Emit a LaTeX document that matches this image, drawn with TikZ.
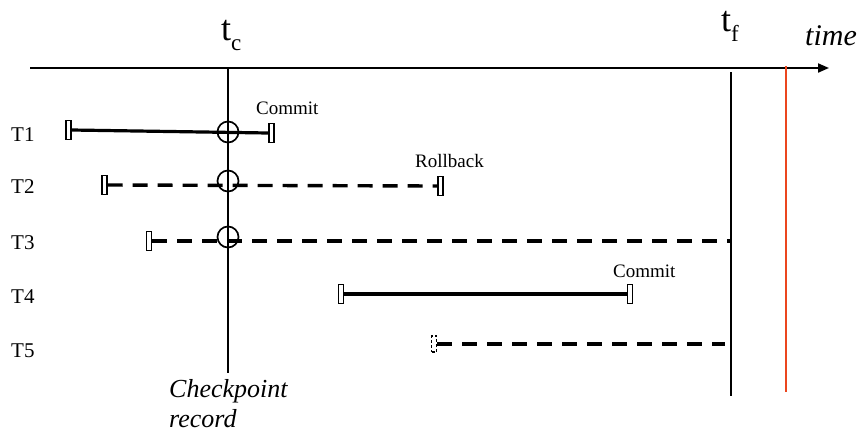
\documentclass[tikz,border=0pt]{standalone}
\usepackage{fontspec}
\setmainfont{Liberation Serif}
\usetikzlibrary{arrows.meta}
\begin{document}
\begin{tikzpicture}[x=1pt,y=-1pt,
  bar/.style={draw,fill=white,line width=1.3pt,minimum width=5pt,minimum height=19pt,inner sep=0pt},
  dbar/.style={bar,dash pattern=on 3pt off 2pt},
  solidtx/.style={line width=3.2pt},
  dashtx/.style={line width=3.4pt,dash pattern=on 15pt off 10pt},
  vline/.style={line width=2pt},
  ring/.style={draw,circle,line width=1.7pt,minimum size=21pt,inner sep=0pt},
  tlab/.style={font=\fontsize{21}{21}\selectfont,inner sep=0pt},
  evlab/.style={font=\fontsize{19}{19}\selectfont,inner sep=0pt},
  biglab/.style={font=\fontsize{26}{30}\selectfont\itshape,inner sep=0pt,align=left}]
\useasboundingbox (0,0) rectangle (862,437);
% time axis
\coordinate (ax0) at (30,68);
\coordinate (ax1) at (829,68);
\draw[line width=2pt,-{Triangle[length=11pt,width=9pt]}] (ax0) -- (ax1);
\node[inner sep=0pt,anchor=base west] (tc) at (221,40) {{\fontsize{36}{36}\selectfont t}\raisebox{-10pt}{\fontsize{23}{23}\selectfont c}};
\node[inner sep=0pt,anchor=base west] (tf) at (721,31) {{\fontsize{36}{36}\selectfont t}\raisebox{-10pt}{\fontsize{23}{23}\selectfont f}};
\node[inner sep=0pt,anchor=base west] (time) at (805,45) {\fontsize{30}{30}\selectfont\itshape time};
% vertical lines
\coordinate (c0) at (228,68);
\coordinate (c1) at (228,373);
\draw[vline] (c0) -- (c1);
\coordinate (f0) at (731,72);
\coordinate (f1) at (731,396);
\draw[vline] (f0) -- (f1);
\coordinate (r0) at (786,66);
\coordinate (r1) at (786,392);
\draw[line width=2pt,color={rgb,255:red,235;green,70;blue,30}] (r0) -- (r1);
% row labels
\node[tlab,anchor=base west] (L1) at (11,141) {T1};
\node[tlab,anchor=base west] (L2) at (11,193) {T2};
\node[tlab,anchor=base west] (L3) at (11,249) {T3};
\node[tlab,anchor=base west] (L4) at (11,303) {T4};
\node[tlab,anchor=base west] (L5) at (11,357) {T5};
% T1
\node[bar] (a1) at (68.5,130) {};
\node[bar] (b1) at (271.5,133) {};
\draw[solidtx] (a1.east) -- (b1.west);
\node[ring] (o1) at (228,132) {};
\node[evlab,anchor=base west] (cm1) at (256,114) {Commit};
% T2
\node[bar] (a2) at (104.5,185) {};
\node[bar] (b2) at (440.5,186) {};
\draw[dashtx] (a2.east) -- (b2.west);
\node[ring] (o2) at (228,181) {};
\node[evlab,anchor=base west] (rb2) at (415,167) {Rollback};
% T3
\node[bar] (a3) at (149,241) {};
\coordinate (e3) at (731,241);
\draw[dashtx] (a3.east) -- (e3);
\node[ring] (o3) at (228,237) {};
% T4
\node[bar] (a4) at (341,294) {};
\node[bar] (b4) at (630,294) {};
\draw[solidtx] (a4.east) -- (b4.west);
\node[evlab,anchor=base west] (cm4) at (613,277) {Commit};
% T5
\node[dbar,minimum height=16pt] (a5) at (434,344) {};
\coordinate (e5) at (725,344);
\draw[dashtx] (a5.east) -- (e5);
% checkpoint record
\node[biglab,anchor=north west] (cp) at (169,379) {Checkpoint\\record};
\end{tikzpicture}
\end{document}
